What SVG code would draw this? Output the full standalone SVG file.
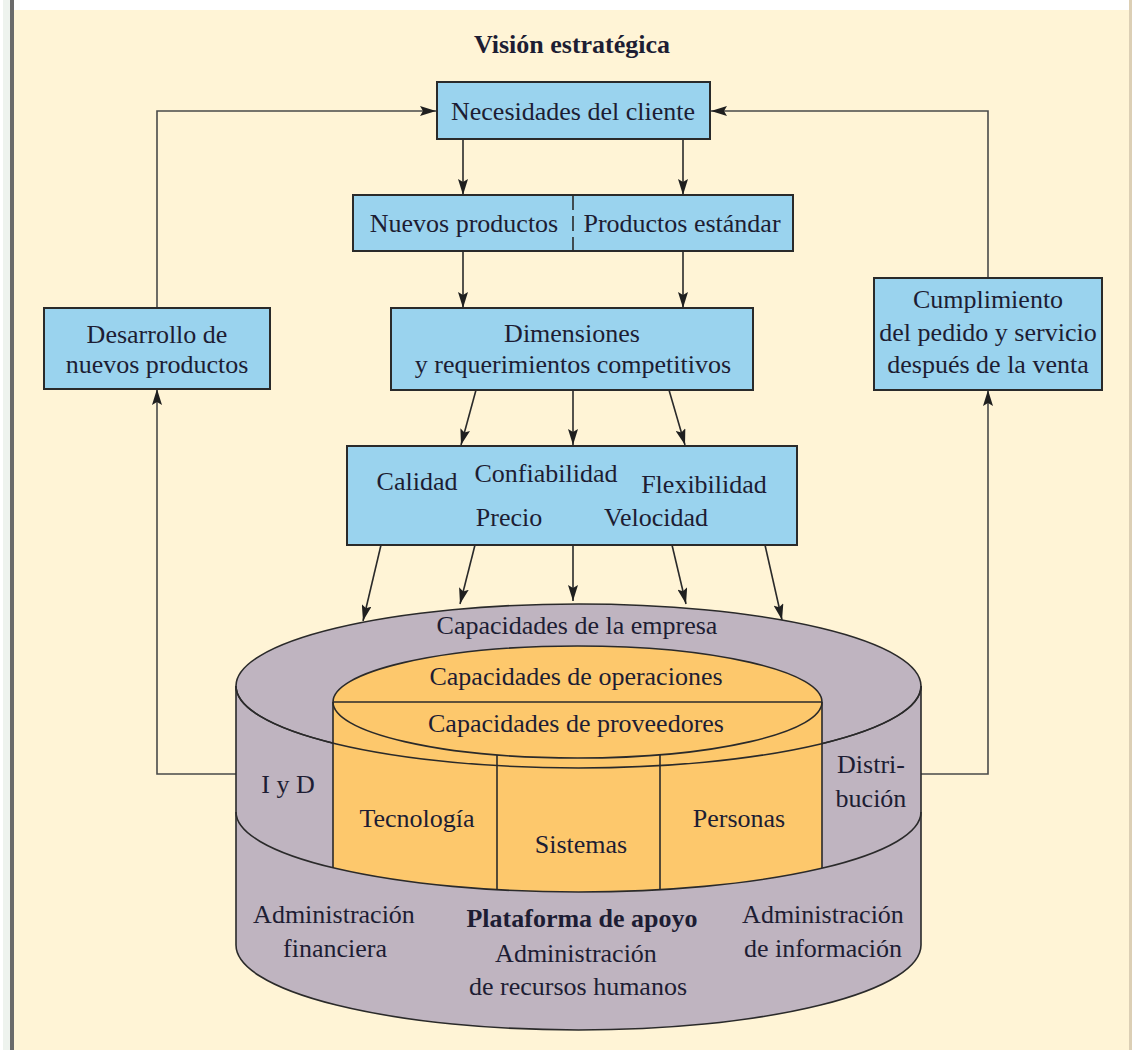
<svg xmlns="http://www.w3.org/2000/svg" width="1132" height="1050" viewBox="0 0 1132 1050">
<style>
.t{font-family:"Liberation Serif","Times New Roman",serif;font-size:26px;fill:#1d1d33;text-anchor:middle}
.b{font-weight:bold}
.box{fill:#9AD3EE;stroke:#2a2a2a;stroke-width:2}
.cn{fill:none;stroke:#2a2a2a;stroke-width:1.6}
.sd{fill:none;stroke:#4a4a4a;stroke-width:1.6}
.ln{fill:none;stroke:#2a2a2a;stroke-width:1.6}
.pu{fill:#BFB4C0}
.or{fill:#FDC86C}
</style>
<defs>
<marker id="ah" viewBox="0 0 16 10" refX="16" refY="5" markerWidth="16" markerHeight="10" markerUnits="userSpaceOnUse" orient="auto">
<path d="M0,0 L16,5 L0,10 L3,5 Z" fill="#1f1f1f"/>
</marker>
</defs>
<rect x="0" y="0" width="1132" height="1050" fill="#FFF4D6"/>
<rect x="0" y="0" width="1132" height="10" fill="#ffffff"/>
<rect x="0" y="0" width="3" height="1050" fill="#ffffff"/>
<rect x="3" y="0" width="7" height="1050" fill="#EEF3EE"/>
<rect x="10" y="0" width="4" height="1050" fill="#6a6a6a"/>
<rect x="1129" y="0" width="3" height="1050" fill="#DCCFB5"/>

<text class="t b" x="572" y="53">Visión estratégica</text>

<g id="connectors">
<line class="cn" x1="463" y1="139" x2="463" y2="195" marker-end="url(#ah)"/>
<line class="cn" x1="683" y1="139" x2="683" y2="195" marker-end="url(#ah)"/>
<line class="cn" x1="463" y1="251" x2="463" y2="308" marker-end="url(#ah)"/>
<line class="cn" x1="683" y1="251" x2="683" y2="308" marker-end="url(#ah)"/>
<line class="cn" x1="476" y1="390" x2="461" y2="445" marker-end="url(#ah)"/>
<line class="cn" x1="573" y1="390" x2="573" y2="445" marker-end="url(#ah)"/>
<line class="cn" x1="669" y1="390" x2="685" y2="445" marker-end="url(#ah)"/>
<line class="cn" x1="381" y1="545" x2="363" y2="621" marker-end="url(#ah)"/>
<line class="cn" x1="475" y1="545" x2="460" y2="604" marker-end="url(#ah)"/>
<line class="cn" x1="573" y1="545" x2="573" y2="601" marker-end="url(#ah)"/>
<line class="cn" x1="672" y1="545" x2="686" y2="604" marker-end="url(#ah)"/>
<line class="cn" x1="765" y1="545" x2="782" y2="620" marker-end="url(#ah)"/>
<path class="sd" d="M236,774 H157 V389" marker-end="url(#ah)"/>
<path class="sd" d="M157,308 V111 H436" marker-end="url(#ah)"/>
<path class="sd" d="M921,774 H988 V390" marker-end="url(#ah)"/>
<path class="sd" d="M988,278 V111 H711" marker-end="url(#ah)"/>
</g>

<g id="necesidades">
<rect class="box" x="437" y="82" width="273" height="57"/>
<text class="t" x="573" y="120">Necesidades del cliente</text>
</g>

<g id="productos">
<rect class="box" x="353" y="195" width="440" height="56"/>
<line x1="573" y1="195" x2="573" y2="251" stroke="#2a2a2a" stroke-width="1.6" stroke-dasharray="15 6"/>
<text class="t" x="464" y="232">Nuevos productos</text>
<text class="t" x="682" y="232">Productos estándar</text>
</g>

<g id="dimensiones">
<rect class="box" x="391" y="308" width="362" height="82"/>
<text class="t" x="572" y="342">Dimensiones</text>
<text class="t" x="573" y="373">y requerimientos competitivos</text>
</g>

<g id="desarrollo">
<rect class="box" x="44" y="308" width="226" height="81"/>
<text class="t" x="157" y="343">Desarrollo de</text>
<text class="t" x="157" y="373">nuevos productos</text>
</g>

<g id="cumplimiento">
<rect class="box" x="874" y="278" width="228" height="112"/>
<text class="t" x="988" y="308">Cumplimiento</text>
<text class="t" x="988" y="341">del pedido y servicio</text>
<text class="t" x="988" y="373">después de la venta</text>
</g>

<g id="dimensiones-lista">
<rect class="box" x="347" y="446" width="450" height="99"/>
<text class="t" x="417" y="490">Calidad</text>
<text class="t" x="546" y="482">Confiabilidad</text>
<text class="t" x="704" y="493">Flexibilidad</text>
<text class="t" x="509" y="526">Precio</text>
<text class="t" x="656" y="526">Velocidad</text>
</g>

<g id="capacidades">
<path class="pu" d="M236,686 L236,945 A342.5,85 0 0 0 921,945 L921,686 Z"/>
<path class="ln" d="M236,686 L236,945 A342.5,85 0 0 0 921,945 L921,686"/>
<ellipse class="pu" cx="578.5" cy="686" rx="342.5" ry="82" stroke="#2a2a2a" stroke-width="1.6"/>
<path class="or" d="M333,702 L333,868 A342.5,80 0 0 0 822,868 L822,702 Z"/>
<ellipse class="or" cx="577.5" cy="702" rx="244.5" ry="56" stroke="#2a2a2a" stroke-width="1.6"/>
<path class="ln" d="M333,702 L333,868 M822,702 L822,868"/>
<path class="ln" d="M236,812 A342.5,80 0 0 0 921,812"/>
<line class="ln" x1="333" y1="702" x2="822" y2="702"/>
<path class="ln" d="M236,686 A342.5,82 0 0 0 921,686"/>
<line class="ln" x1="497" y1="755" x2="497" y2="890"/>
<line class="ln" x1="660" y1="755" x2="660" y2="890"/>
<text class="t" x="577" y="634">Capacidades de la empresa</text>
<text class="t" x="576" y="685">Capacidades de operaciones</text>
<text class="t" x="576" y="732">Capacidades de proveedores</text>
<text class="t" x="288" y="793">I y D</text>
<text class="t" x="871" y="773">Distri-</text>
<text class="t" x="871" y="807">bución</text>
<text class="t" x="417" y="827">Tecnología</text>
<text class="t" x="581" y="853">Sistemas</text>
<text class="t" x="739" y="827">Personas</text>
<text class="t" x="334" y="923">Administración</text>
<text class="t" x="335" y="957">financiera</text>
<text class="t b" x="582" y="927">Plataforma de apoyo</text>
<text class="t" x="576" y="962">Administración</text>
<text class="t" x="578" y="995">de recursos humanos</text>
<text class="t" x="823" y="923">Administración</text>
<text class="t" x="823" y="957">de información</text>
</g>
</svg>
